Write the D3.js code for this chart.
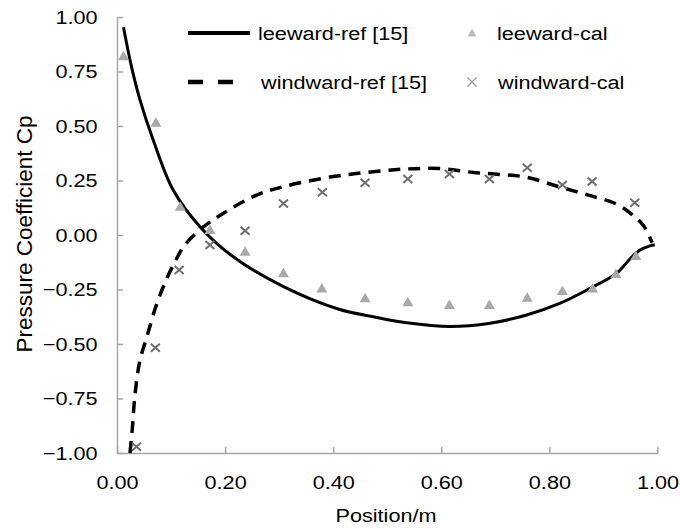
<!DOCTYPE html>
<html>
<head>
<meta charset="utf-8">
<script src="https://d3js.org/d3.v7.min.js"></script>
<style>
	body {
		margin: 0;
		background: #fff;
		font-family: "Liberation Sans", Arial, Helvetica, sans-serif;
	}
	.axis path, .axis line {
		stroke: #a6a6a6;
		stroke-width: 1.5px;
	}
	.axis text {
		font-size: 19px;
		fill: #000;
	}
</style>
</head>
<body>
<script>
	// leeward reference curve [15]
	var leeRefX = [0.012, 0.027, 0.0425, 0.067, 0.104, 0.1535, 0.215, 0.308, 0.412, 0.474, 0.536, 0.616, 0.69, 0.758, 0.819, 0.875, 0.924, 0.949, 0.967, 0.986, 0.995];
	var leeRefY = [0.953, 0.77, 0.62, 0.436, 0.206, 0.038, -0.10, -0.237, -0.342, -0.375, -0.403, -0.42, -0.405, -0.367, -0.314, -0.245, -0.176, -0.11, -0.07, -0.05, -0.045];

	// windward reference curve [15]
	var windRefX = [0.024, 0.028, 0.033, 0.042, 0.055, 0.073, 0.092, 0.11, 0.123, 0.153, 0.197, 0.258, 0.308, 0.40, 0.474, 0.536, 0.597, 0.659, 0.708, 0.758, 0.813, 0.869, 0.924, 0.955, 0.975, 0.99];
	var windRefY = [-1.0, -0.90, -0.74, -0.58, -0.47, -0.32, -0.20, -0.11, -0.054, 0.023, 0.10, 0.183, 0.222, 0.268, 0.29, 0.303, 0.305, 0.287, 0.278, 0.265, 0.225, 0.185, 0.142, 0.09, 0.04, -0.035];

	// calculated values
	var leeCalX = [0.012, 0.072, 0.117, 0.172, 0.237, 0.308, 0.379, 0.459, 0.538, 0.615, 0.689, 0.759, 0.824, 0.88, 0.923, 0.96];
	var leeCalY = [0.82, 0.515, 0.13, 0.023, -0.077, -0.176, -0.245, -0.29, -0.309, -0.321, -0.321, -0.288, -0.257, -0.245, -0.179, -0.096];
	var windCalX = [0.036, 0.071, 0.115, 0.172, 0.237, 0.308, 0.38, 0.459, 0.538, 0.615, 0.689, 0.759, 0.824, 0.879, 0.958];
	var windCalY = [-0.971, -0.517, -0.16, -0.046, 0.02, 0.145, 0.196, 0.24, 0.257, 0.28, 0.257, 0.309, 0.229, 0.245, 0.148];

	var xTicks = [0, 0.2, 0.4, 0.6, 0.8, 1.0];
	var yTicks = [-1, -0.75, -0.5, -0.25, 0, 0.25, 0.5, 0.75, 1];

	var stretch = 1.14;
	var svg = d3.select("body").append("svg")
		.attr("width", 680).attr("height", 529);

	var x = d3.scaleLinear().domain([0, 1]).range([117, 657.5]);
	var y = d3.scaleLinear().domain([-1, 1]).range([453, 17]);

	// axes, ticks point inward
	var gx = svg.append("g").attr("class", "axis")
		.attr("transform", "translate(0,453)")
		.call(d3.axisBottom(x).tickValues(xTicks).tickFormat(d3.format(".2f"))
			.tickSizeInner(-6).tickSizeOuter(0).tickPadding(23));
	var gy = svg.append("g").attr("class", "axis")
		.attr("transform", "translate(117,0)")
		.call(d3.axisLeft(y).tickValues(yTicks).tickFormat(function(d) { return d3.format(".2f")(d).replace("-", "\u2212"); })
			.tickSizeInner(-6).tickSizeOuter(0).tickPadding(17));
	svg.selectAll(".axis text").attr("transform", "scale(" + stretch + ",1)");

	// axis titles
	svg.append("text")
		.attr("transform", "translate(386,522) scale(" + stretch + ",1)")
		.style("text-anchor", "middle").style("font-size", "19px")
		.text("Position/m");
	svg.append("text")
		.attr("transform", "translate(32,234) rotate(-90)")
		.style("text-anchor", "middle").style("font-size", "22.5px")
		.text("Pressure Coefficient Cp");

	var line = d3.line().curve(d3.curveCatmullRom.alpha(0.5))
		.x(function(d) { return x(d[0]); })
		.y(function(d) { return y(d[1]); });

	svg.append("path")
		.datum(d3.zip(leeRefX, leeRefY))
		.attr("d", line)
		.attr("fill", "none").attr("stroke", "#000").attr("stroke-width", 3);

	svg.append("path")
		.datum(d3.zip(windRefX, windRefY))
		.attr("d", line)
		.attr("fill", "none").attr("stroke", "#000").attr("stroke-width", 3.5)
		.attr("stroke-dasharray", "12,8");

	// triangles
	var tri = "M0,-5.5L5.5,4L-5.5,4Z";
	svg.selectAll(".tri").data(d3.zip(leeCalX, leeCalY)).enter().append("path")
		.attr("class", "tri")
		.attr("d", tri)
		.attr("transform", function(d) { return "translate(" + x(d[0]) + "," + y(d[1]) + ")"; })
		.attr("fill", "#a9a9a9");

	// crosses
	var cross = "M-4.5,-4L4.5,4M-4.5,4L4.5,-4";
	svg.selectAll(".cross").data(d3.zip(windCalX, windCalY)).enter().append("path")
		.attr("class", "cross")
		.attr("d", cross)
		.attr("transform", function(d) { return "translate(" + x(d[0]) + "," + y(d[1]) + ")"; })
		.attr("fill", "none").attr("stroke", "#6e6e6e").attr("stroke-width", 2);

	// legend
	var legend = svg.append("g");
	legend.append("line").attr("x1", 188).attr("x2", 250).attr("y1", 33).attr("y2", 33)
		.attr("stroke", "#000").attr("stroke-width", 4);
	legend.append("line").attr("x1", 188).attr("x2", 235).attr("y1", 82).attr("y2", 82)
		.attr("stroke", "#000").attr("stroke-width", 4.5).attr("stroke-dasharray", "15,15");
	legend.append("path").attr("d", "M0,-4.5L4.5,3.5L-4.5,3.5Z")
		.attr("transform", "translate(472,33)").attr("fill", "#bdbdbd");
	legend.append("path").attr("d", "M-4.5,-4.5L4.5,4.5M-4.5,4.5L4.5,-4.5")
		.attr("transform", "translate(472,82)").attr("fill", "none")
		.attr("stroke", "#9a9a9a").attr("stroke-width", 1.3);

	var legendTexts = [
		{t: "leeward-ref [15]", x: 258, y: 40},
		{t: "windward-ref [15]", x: 261, y: 89},
		{t: "leeward-cal", x: 497, y: 40},
		{t: "windward-cal", x: 498, y: 89}
	];
	legend.selectAll("text").data(legendTexts).enter().append("text")
		.attr("transform", function(d) { return "translate(" + d.x + "," + d.y + ") scale(" + stretch + ",1)"; })
		.style("font-size", "19px")
		.text(function(d) { return d.t; });
</script>
</body>
</html>
